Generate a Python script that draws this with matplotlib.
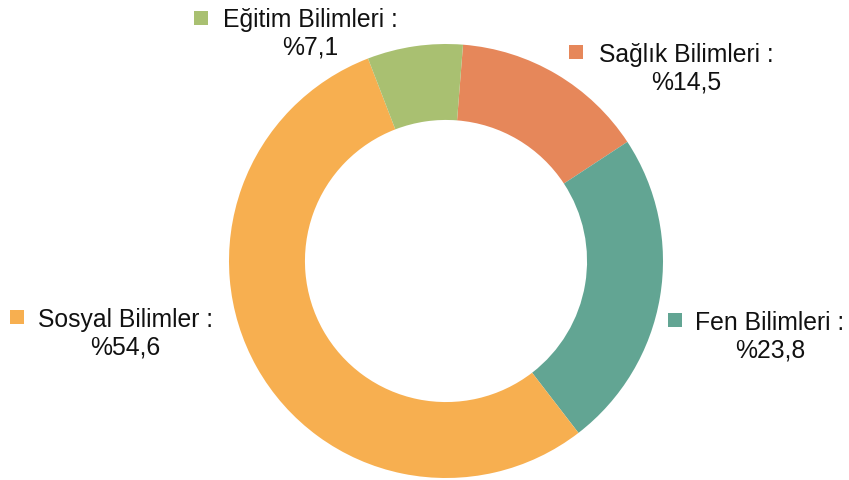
import matplotlib
matplotlib.use("Agg")
import matplotlib.pyplot as plt

# data, clockwise starting just right of 12 o'clock
categories = ["Sağlık Bilimleri", "Fen Bilimleri", "Sosyal Bilimler", "Eğitim Bilimleri"]
values = [14.5, 23.8, 54.6, 7.1]
colors = ["#E6875A", "#62A593", "#F7AF50", "#A9C071"]

W, H = 849, 481
plt.rcParams["font.family"] = ["Liberation Sans", "DejaVu Sans"]

fig = plt.figure(figsize=(W / 100, H / 100), dpi=100)
ax = fig.add_axes([0, 0, 1, 1])

cx, cy, r = 446, H - 262, 217
ax.pie(values, colors=colors, startangle=85.5, counterclock=False,
       center=(cx, cy), radius=r, frame=True,
       wedgeprops=dict(width=r * 0.35, linewidth=0))

ax.set_xlim(0, W)
ax.set_ylim(0, H)
ax.set_aspect("equal")
ax.axis("off")

""" Labels: (square x, square y, text centre x, line1 y) in pixels """
label_pos = {
    "Eğitim Bilimleri": (201, 19, 310, 20),
    "Sağlık Bilimleri": (576, 53, 686, 55),
    "Sosyal Bilimler": (17, 318, 125, 320),
    "Fen Bilimleri": (675, 321, 770, 323),
}
for cat, val, col in zip(categories, values, colors):
    sx, sy, tx, ty = label_pos[cat]
    ax.plot(sx, H - sy, "s", color=col, markersize=9.5, markeredgewidth=0)
    txt = "{} :\n%{}".format(cat, str(val).replace(".", ","))
    ax.text(tx, H - ty - 14, txt, ha="center", va="center", fontsize=17.8,
            linespacing=1.2, color="#111111")

fig.savefig("out.png", dpi=100)
